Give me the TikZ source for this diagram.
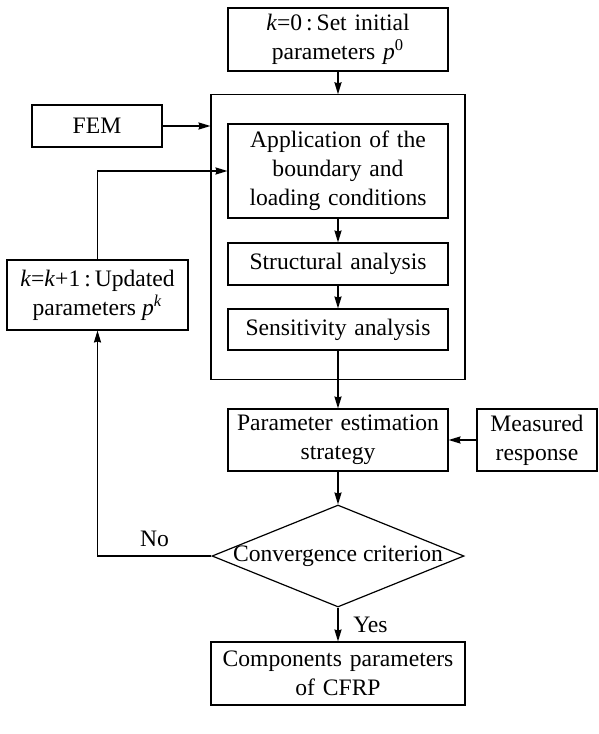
\documentclass[tikz,border=0pt]{standalone}
\usepackage{fontspec}
\setmainfont{Liberation Serif}
\usepackage{tikz}
\usetikzlibrary{shapes.geometric, arrows.meta, fit}

\begin{document}
\begin{tikzpicture}[node distance=58pt]
\tikzstyle{process} = [rectangle, inner sep=0pt, minimum width=110pt, text centered, text width=108pt, draw=black, line width=0.6pt, font=\fontsize{11.8pt}{14.5pt}\selectfont]
\tikzstyle{side} = [rectangle, inner sep=0pt, align=center, draw=black, line width=0.6pt, font=\fontsize{11.8pt}{14.5pt}\selectfont]
\tikzstyle{decision} = [diamond, inner sep=0pt, minimum width=126pt, minimum height=51pt, draw=black, line width=0.6pt, font=\fontsize{11.8pt}{14.5pt}\selectfont]
\tikzstyle{arrow} = [line width=0.6pt,->,>={Stealth[length=6pt,width=3.6pt,inset=0.6pt]}]

\useasboundingbox (0,0) rectangle (299.5pt,-367pt);

\node (init) [process, minimum height=31.5pt] at (169pt,-19.75pt) {\textit{k}=0\,:\,Set initial\\parameters \textit{p}\textsuperscript{0}};
\node (apply) [process, minimum height=47pt, below of=init, yshift=-7.75pt] {Application of the\\boundary and\\loading conditions};
\node (struct) [process, minimum height=21pt, below of=apply, yshift=11.5pt] {Structural analysis};
\node (sens) [process, minimum height=20.5pt, below of=struct, yshift=25.25pt] {Sensitivity analysis};
\node (frame) [draw=black, line width=0.6pt, inner xsep=8.2pt, inner ysep=14.3pt, fit=(apply)(sens)] {};
\node (fem) [side, minimum width=65pt, minimum height=21pt, left of=apply, xshift=-62.5pt, yshift=22.5pt] {FEM};
\node (upd) [side, minimum width=90.5pt, minimum height=35pt, left of=struct, xshift=-62.25pt, yshift=-15.5pt] {\textit{k}=\textit{k}+1\,:\,Updated\\parameters \textit{p}\textsuperscript{\textit{k}}};
\node (est) [process, minimum height=31pt, below of=sens, yshift=2.75pt] {Parameter estimation\\strategy};
\node (meas) [side, minimum width=60pt, minimum height=31pt, right of=est, xshift=41.5pt] {Measured\\response};
\node (conv) [decision, below of=est] {\makebox[0pt]{Convergence criterion}};
\node (result) [process, minimum width=127pt, text width=125pt, minimum height=31.5pt, below of=conv, yshift=-0.75pt] {Components parameters\\of CFRP};

\draw [arrow] (init) -- (frame);
\draw [arrow] (fem) -- (fem -| frame.west);
\draw [arrow] (upd) |- (apply);
\draw [arrow] (apply) -- (struct);
\draw [arrow] (struct) -- (sens);
\draw [arrow] (sens) -- (est);
\draw [arrow] (meas) -- (est);
\draw [arrow] (est) -- (conv);
\draw [arrow] (conv) -- node[anchor=west, xshift=4pt, font=\fontsize{11.8pt}{14.5pt}\selectfont] {Yes} (result);
\draw [arrow] (conv) -| node[pos=0.25, anchor=south, yshift=1pt, font=\fontsize{11.8pt}{14.5pt}\selectfont] {No} (upd);
\end{tikzpicture}
\end{document}
